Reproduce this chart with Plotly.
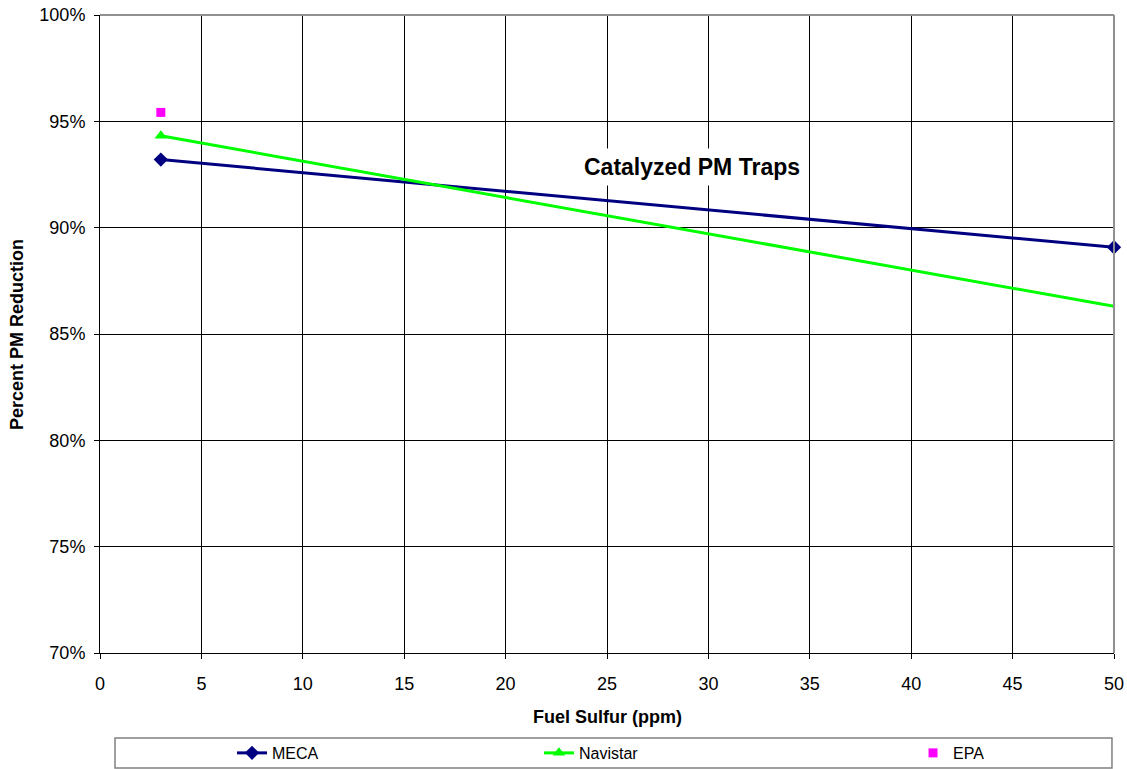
import plotly.graph_objects as go

meca_x = [3, 50]
meca_y = [93.2, 89.08]
navistar_x = [3, 50]
navistar_y = [94.32, 86.3]
epa_x = [3]
epa_y = [95.42]

x_ticks = list(range(0, 55, 5))
y_ticks = [70, 75, 80, 85, 90, 95, 100]
y_labels = [f"{v}%" for v in y_ticks]

FONT = "Liberation Sans, Arial, sans-serif"

fig = go.Figure()
fig.add_trace(go.Scatter(x=meca_x, y=meca_y, mode="lines+markers", name="MECA",
                         line=dict(color="#000080", width=3),
                         marker=dict(symbol="diamond", size=11, color="#000080"),
                         legend="legend", showlegend=True, cliponaxis=False))
fig.add_trace(go.Scatter(x=navistar_x, y=navistar_y, mode="lines+markers", name="Navistar",
                         line=dict(color="#00FF00", width=3),
                         marker=dict(symbol="triangle-up", size=11, color="#00FF00"),
                         selectedpoints=[0],
                         selected=dict(marker=dict(opacity=1)),
                         unselected=dict(marker=dict(opacity=0)),
                         legend="legend2", showlegend=True, cliponaxis=False))
fig.add_trace(go.Scatter(x=epa_x, y=epa_y, mode="markers", name="EPA",
                         marker=dict(symbol="square", size=9, color="#FF00FF"),
                         legend="legend3", showlegend=True, cliponaxis=False))

fig.update_xaxes(range=[0, 50], tickvals=x_ticks, ticktext=[str(v) for v in x_ticks],
                 showgrid=True, gridcolor="black", gridwidth=1,
                 showline=True, linecolor="black", linewidth=1,
                 ticks="outside", ticklen=5, tickcolor="black", ticklabelstandoff=9,
                 tickfont=dict(family=FONT, size=18, color="black"), zeroline=False)
fig.update_yaxes(range=[70, 100], tickvals=y_ticks, ticktext=y_labels,
                 showgrid=True, gridcolor="black", gridwidth=1,
                 showline=True, linecolor="black", linewidth=1,
                 ticks="outside", ticklen=5, tickcolor="black", ticklabelstandoff=5,
                 tickfont=dict(family=FONT, size=18, color="black"), zeroline=False)

# gray top/right borders
fig.add_shape(type="line", xref="paper", yref="paper", x0=0, x1=1, y0=1, y1=1,
              line=dict(color="#909090", width=2))
fig.add_shape(type="line", xref="paper", yref="paper", x0=1, x1=1, y0=0, y1=1,
              line=dict(color="#909090", width=2))
# legend box
fig.add_shape(type="rect", xref="paper", yref="paper",
              x0=0.0148, x1=0.998, y0=-0.1332, y1=-0.1803,
              line=dict(color="#808080", width=1.5), fillcolor="white", layer="below")

fig.add_annotation(text="<b>Catalyzed PM Traps</b>", xref="paper", yref="paper",
                   x=0.584, y=0.762, xanchor="center", yanchor="middle",
                   showarrow=False, borderpad=5,
                   font=dict(family=FONT, size=23, color="black"), bgcolor="white")
fig.add_annotation(text="<b>Percent PM Reduction</b>", xref="paper", yref="paper",
                   x=-0.0819, y=0.5, xanchor="center", yanchor="middle",
                   showarrow=False, textangle=-90,
                   font=dict(family=FONT, size=18, color="black"))
fig.add_annotation(text="<b>Fuel Sulfur (ppm)</b>", xref="paper", yref="paper",
                   x=0.5, y=-0.1003, xanchor="center", yanchor="middle",
                   showarrow=False,
                   font=dict(family=FONT, size=18, color="black"))

leg_common = dict(orientation="h", yanchor="middle", y=-0.1567, xanchor="left",
                  bgcolor="rgba(0,0,0,0)", font=dict(family=FONT, size=16, color="black"),
                  itemwidth=30)
fig.update_layout(
    showlegend=True,
    legend=dict(x=0.1302, **leg_common),
    legend2=dict(x=0.4329, **leg_common),
    legend3=dict(x=0.8018, **leg_common),
    width=1127, height=769,
    margin=dict(l=100, r=13, t=15, b=116, autoexpand=False),
    plot_bgcolor="white", paper_bgcolor="white",
    font=dict(family=FONT, color="black"),
)

fig.write_html("out.html")
